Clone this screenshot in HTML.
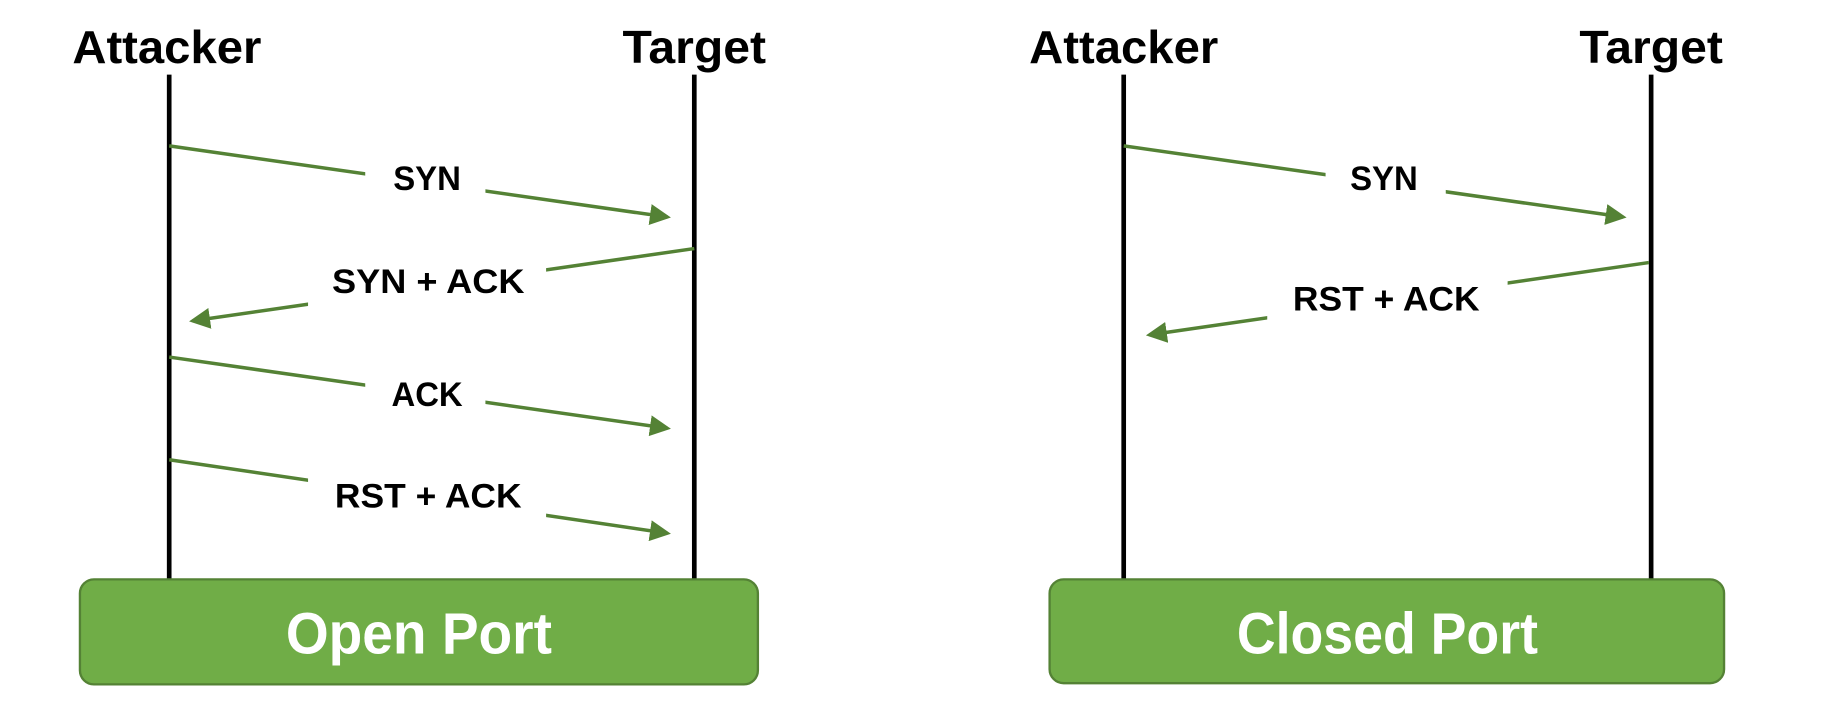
<!DOCTYPE html>
<html><head><meta charset="utf-8"><style>
html,body{margin:0;padding:0;background:#fff;}
svg{display:block;}
text{font-family:"Liberation Sans","Noto Sans CJK KR",sans-serif;font-weight:bold;}
</style></head><body>
<svg width="1825" height="702" viewBox="0 0 1564 601.6" preserveAspectRatio="none" xmlns="http://www.w3.org/2000/svg">
<defs>
<marker id="ah" markerWidth="6" markerHeight="6" refX="5" refY="3" orient="auto" markerUnits="strokeWidth">
<path d="M0,0 L6,3 L0,6 z" fill="#548235"/>
</marker>
</defs>
<g id="left">
<text x="143" y="54" font-size="40" text-anchor="middle" textLength="162" lengthAdjust="spacingAndGlyphs">Attacker</text>
<text x="595" y="54" font-size="40" text-anchor="middle" textLength="123" lengthAdjust="spacingAndGlyphs">Target</text>
<line x1="145" y1="64" x2="145" y2="496" stroke="#000" stroke-width="4"/>
<line x1="595" y1="64" x2="595" y2="496" stroke="#000" stroke-width="4"/>
<g stroke="#548235" stroke-width="3" fill="none">
<line x1="145" y1="125" x2="572" y2="186" marker-end="url(#ah)"/>
<line x1="595" y1="213" x2="165" y2="275" marker-end="url(#ah)"/>
<line x1="145" y1="306" x2="572" y2="367" marker-end="url(#ah)"/>
<line x1="145" y1="394" x2="572" y2="457" marker-end="url(#ah)"/>
</g>
<g fill="#fff">
<rect x="313" y="130" width="103" height="44"/>
<rect x="264" y="218" width="204" height="46"/>
<rect x="313" y="314" width="103" height="44"/>
<rect x="264" y="403" width="204" height="44"/>
</g>
<g font-size="29" text-anchor="middle">
<text x="366" y="163" textLength="58" lengthAdjust="spacingAndGlyphs">SYN</text>
<text x="367" y="251" textLength="165" lengthAdjust="spacingAndGlyphs" xml:space="preserve">SYN + ACK</text>
<text x="366" y="348" textLength="61" lengthAdjust="spacingAndGlyphs">ACK</text>
<text x="367" y="435" textLength="160" lengthAdjust="spacingAndGlyphs" xml:space="preserve">RST + ACK</text>
</g>
<rect x="68.5" y="496.5" width="581" height="90" rx="12" fill="#70ad47" stroke="#548235" stroke-width="2"/>
<text x="359" y="560" font-size="50" fill="#fff" text-anchor="middle" textLength="228" lengthAdjust="spacingAndGlyphs">Open Port</text>
</g>
<g id="right">
<text x="963" y="54" font-size="40" text-anchor="middle" textLength="162" lengthAdjust="spacingAndGlyphs">Attacker</text>
<text x="1415" y="54" font-size="40" text-anchor="middle" textLength="123" lengthAdjust="spacingAndGlyphs">Target</text>
<line x1="963" y1="64" x2="963" y2="496" stroke="#000" stroke-width="4"/>
<line x1="1415" y1="64" x2="1415" y2="496" stroke="#000" stroke-width="4"/>
<g stroke="#548235" stroke-width="3" fill="none">
<line x1="963" y1="125" x2="1391" y2="186" marker-end="url(#ah)"/>
<line x1="1413" y1="225" x2="985" y2="287" marker-end="url(#ah)"/>
</g>
<g fill="#fff">
<rect x="1136" y="130" width="103" height="44"/>
<rect x="1086" y="232" width="206" height="46"/>
</g>
<g font-size="29" text-anchor="middle">
<text x="1186" y="163" textLength="58" lengthAdjust="spacingAndGlyphs">SYN</text>
<text x="1188" y="266" textLength="160" lengthAdjust="spacingAndGlyphs" xml:space="preserve">RST + ACK</text>
</g>
<rect x="899.5" y="496.5" width="578" height="89" rx="12" fill="#70ad47" stroke="#548235" stroke-width="2"/>
<text x="1189" y="560" font-size="50" fill="#fff" text-anchor="middle" textLength="258" lengthAdjust="spacingAndGlyphs">Closed Port</text>
</g>
</svg>
</body></html>
